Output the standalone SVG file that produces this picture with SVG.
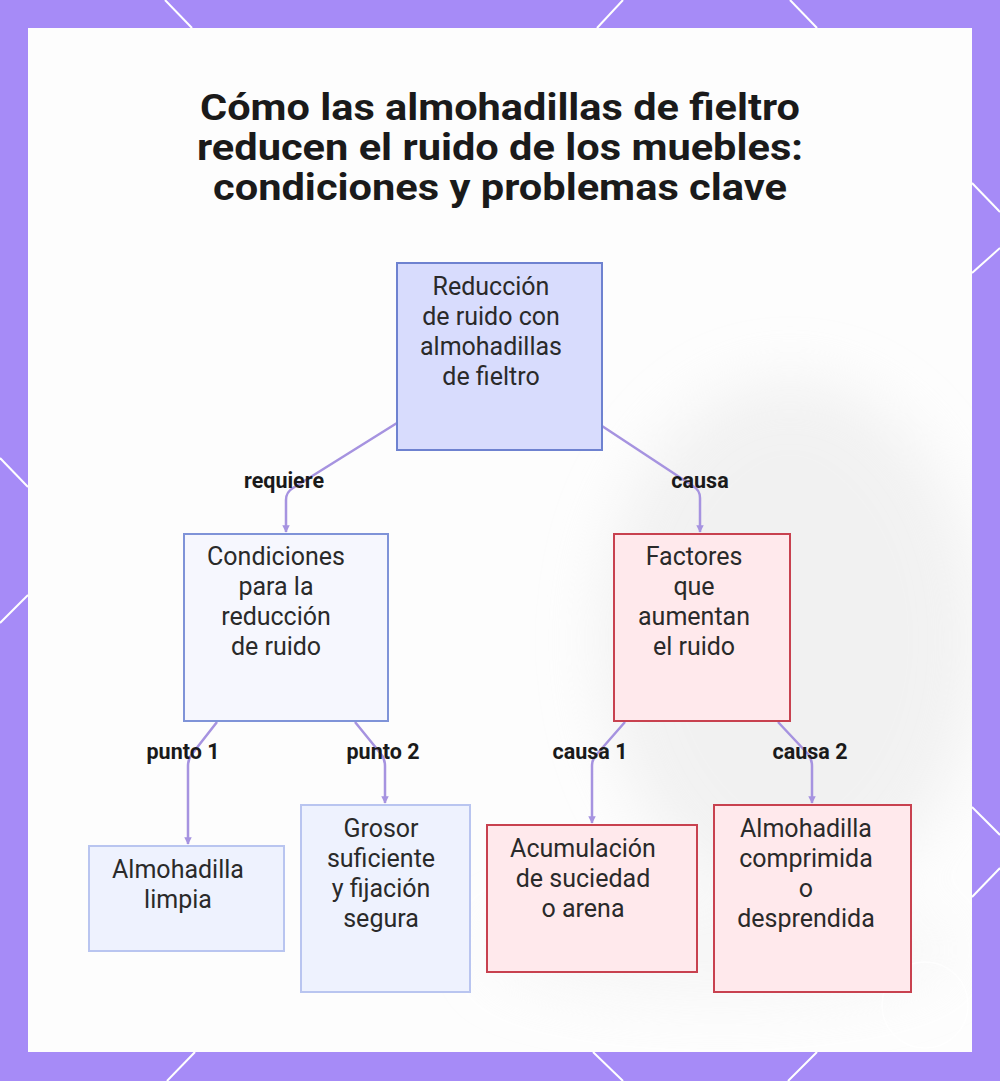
<svg xmlns="http://www.w3.org/2000/svg" width="1000" height="1081" viewBox="0 0 1000 1081">
<defs>
<style>
.frame{fill:#a68bf7}
.hex{stroke:#ffffff;stroke-width:2;fill:none}
.title{font-family:Roboto,"Liberation Sans",sans-serif;font-weight:700;font-size:37px;fill:#1a1a1a;text-anchor:middle}
.nt{font-family:Roboto,"Liberation Sans",sans-serif;font-size:25px;fill:#2a2a2a;text-anchor:middle}
.el{font-family:Roboto,"Liberation Sans",sans-serif;font-weight:700;font-size:21.5px;fill:#1a1a1a;text-anchor:middle}
.edge{fill:none;stroke:#a693e0;stroke-width:2.5}
.root{fill:#d8dcfd;stroke:#6e82d0;stroke-width:2}
.cond{fill:#f6f7fe;stroke:#7f93d8;stroke-width:2}
.leafb{fill:#eef2fe;stroke:#b9c5f0;stroke-width:2}
.red{fill:#ffe9ec;stroke:#c8414f;stroke-width:2}
</style>
<marker id="arr" viewBox="0 0 10 10" refX="9" refY="5" markerWidth="3" markerHeight="3" orient="auto">
<path d="M0,0 L10,5 L0,10 z" fill="#a693e0"/>
</marker>
<filter id="blur" x="-30%" y="-30%" width="160%" height="160%"><feGaussianBlur stdDeviation="30"/></filter>
<clipPath id="panel"><rect x="28" y="28" width="944" height="1024"/></clipPath>
</defs>
<rect class="frame" x="0" y="0" width="1000" height="1081"/>
<g id="frame-lines">
<line class="hex" x1="165" y1="0" x2="192" y2="28"/>
<line class="hex" x1="623" y1="0" x2="597" y2="28"/>
<line class="hex" x1="790" y1="0" x2="817" y2="28"/>
<line class="hex" x1="972" y1="183" x2="1000" y2="212"/>
<line class="hex" x1="972" y1="273" x2="1000" y2="248"/>
<line class="hex" x1="972" y1="807" x2="1000" y2="835"/>
<line class="hex" x1="972" y1="897" x2="1000" y2="868"/>
<line class="hex" x1="0" y1="458" x2="28" y2="487"/>
<line class="hex" x1="28" y1="595" x2="0" y2="623"/>
<line class="hex" x1="167" y1="1081" x2="195" y2="1052"/>
<line class="hex" x1="593" y1="1052" x2="623" y2="1081"/>
<line class="hex" x1="817" y1="1052" x2="788" y2="1081"/>
</g>
<rect x="28" y="28" width="944" height="1024" fill="#fdfdfd"/>
<g id="backdrop" clip-path="url(#panel)">
<g filter="url(#blur)" opacity="0.55">
<ellipse cx="790" cy="640" rx="190" ry="260" fill="#e8e8e8"/>
<ellipse cx="720" cy="950" rx="230" ry="50" fill="#f1f1f1"/>
</g>
</g>
<circle cx="925" cy="1005" r="43" fill="none" stroke="#ffffff" stroke-width="1.5" opacity="0.8"/>
<g id="title">
<text class="title" x="500" y="120" textLength="600" lengthAdjust="spacingAndGlyphs">Cómo las almohadillas de fieltro</text>
<text class="title" x="500" y="160" textLength="606" lengthAdjust="spacingAndGlyphs">reducen el ruido de los muebles:</text>
<text class="title" x="500" y="200" textLength="574" lengthAdjust="spacingAndGlyphs">condiciones y problemas clave</text>
</g>
<g id="connectors">
<path class="edge" d="M397,423 L293,488 Q286,492 286,500 L286,532" marker-end="url(#arr)"/>
<path class="edge" d="M602,426 L693,486 Q700,490 700,498 L700,532" marker-end="url(#arr)"/>
<path class="edge" d="M217,722 L192,754 Q188,759 188,766 L188,844" marker-end="url(#arr)"/>
<path class="edge" d="M355,722 L381,754 Q385,759 385,766 L385,803" marker-end="url(#arr)"/>
<path class="edge" d="M625,722 L597,754 Q592,759 592,766 L592,823" marker-end="url(#arr)"/>
<path class="edge" d="M778,722 L808,754 Q812,759 812,766 L812,803" marker-end="url(#arr)"/>
<text class="el" x="284" y="488">requiere</text>
<text class="el" x="700" y="488">causa</text>
<text class="el" x="183" y="759">punto 1</text>
<text class="el" x="383" y="759">punto 2</text>
<text class="el" x="590" y="759">causa 1</text>
<text class="el" x="810" y="759">causa 2</text>
</g>
<g id="n-root">
<rect class="root" x="397" y="263" width="205" height="187"/>
<text class="nt" x="491" y="295">Reducción</text>
<text class="nt" x="491" y="325">de ruido con</text>
<text class="nt" x="491" y="355">almohadillas</text>
<text class="nt" x="491" y="385">de fieltro</text>
</g>
<g id="n-condiciones">
<rect class="cond" x="184" y="534" width="204" height="187"/>
<text class="nt" x="276" y="565">Condiciones</text>
<text class="nt" x="276" y="595">para la</text>
<text class="nt" x="276" y="625">reducción</text>
<text class="nt" x="276" y="655">de ruido</text>
</g>
<g id="n-factores">
<rect class="red" x="614" y="534" width="176" height="187"/>
<text class="nt" x="694" y="565">Factores</text>
<text class="nt" x="694" y="595">que</text>
<text class="nt" x="694" y="625">aumentan</text>
<text class="nt" x="694" y="655">el ruido</text>
</g>
<g id="n-limpia">
<rect class="leafb" x="89" y="846" width="195" height="105"/>
<text class="nt" x="178" y="878">Almohadilla</text>
<text class="nt" x="178" y="908">limpia</text>
</g>
<g id="n-grosor">
<rect class="leafb" x="301" y="805" width="169" height="187"/>
<text class="nt" x="381" y="837">Grosor</text>
<text class="nt" x="381" y="867">suficiente</text>
<text class="nt" x="381" y="897">y fijación</text>
<text class="nt" x="381" y="927">segura</text>
</g>
<g id="n-acumulacion">
<rect class="red" x="487" y="825" width="210" height="147"/>
<text class="nt" x="583" y="857">Acumulación</text>
<text class="nt" x="583" y="887">de suciedad</text>
<text class="nt" x="583" y="917">o arena</text>
</g>
<g id="n-comprimida">
<rect class="red" x="714" y="805" width="197" height="187"/>
<text class="nt" x="806" y="837">Almohadilla</text>
<text class="nt" x="806" y="867">comprimida</text>
<text class="nt" x="806" y="897">o</text>
<text class="nt" x="806" y="927">desprendida</text>
</g>
</svg>
